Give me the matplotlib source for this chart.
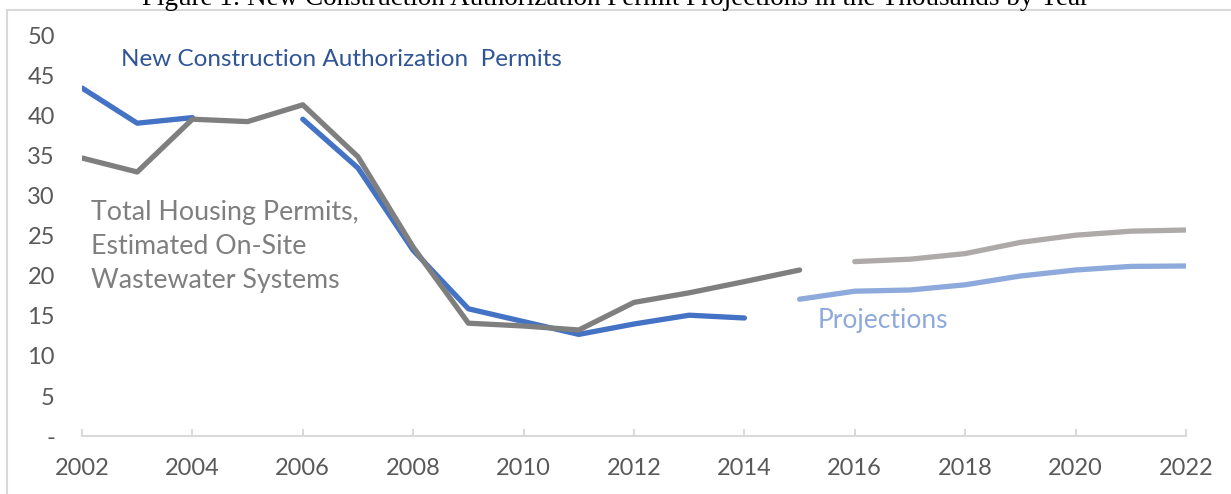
import matplotlib.pyplot as plt
import numpy as np
from matplotlib.patches import Rectangle

plt.rcParams["font.family"] = ["Lato", "DejaVu Sans"]

# Data (thousands of permits)
hist_years = np.arange(2002, 2015)
permits = [43.5, 39.1, 39.8, np.nan, 39.6, 33.5, 23.2, 15.9, 14.3, 12.7, 14.0, 15.1, 14.75]

total_years = np.arange(2002, 2016)
total_permits = [34.75, 33.0, 39.6, 39.3, 41.4, 34.9, 23.6, 14.1, 13.75, 13.25, 16.7, 17.9, 19.3, 20.75]

proj_years = np.arange(2015, 2023)
proj_permits = [17.1, 18.1, 18.25, 18.9, 20.0, 20.75, 21.2, 21.25]

proj_total_years = np.arange(2016, 2023)
proj_total = [21.8, 22.1, 22.8, 24.2, 25.1, 25.6, 25.75]

y_ticks = [0, 5, 10, 15, 20, 25, 30, 35, 40, 45, 50]
y_labels = ["-"] + [str(v) for v in y_ticks[1:]]
x_ticks = list(range(2002, 2023, 2))

blue = "#4472C4"
gray = "#7F7F7F"
light_blue = "#8EA9DB"
light_gray = "#AEAAAA"
lw = 3.8

fig = plt.figure(figsize=(12.31, 4.94), dpi=100)
W, H = 1231, 494
ax = fig.add_axes([82 / W, (H - 436) / H, (1186 - 82) / W, 400 / H])

# outer chart border (partly cut off at the right and bottom)
fig.patches.append(Rectangle((7 / W, -0.1), 1.2, 1 - 10 / H + 0.1, transform=fig.transFigure,
                             fill=False, edgecolor="#D9D9D9", linewidth=1.5))

# caption above the chart, cut off by the top edge as in the original
fig.text(0.5, 1 - 5 / H, "Figure 1: New Construction Authorization Permit Projections in the Thousands by Year",
         ha="center", va="baseline", fontsize=19.5, family="Liberation Serif", color="black")

ax.plot(hist_years, permits, color=blue, lw=lw, solid_capstyle="round", solid_joinstyle="round")
ax.plot(total_years, total_permits, color=gray, lw=lw, solid_capstyle="round", solid_joinstyle="round")
ax.plot(proj_years, proj_permits, color=light_blue, lw=lw, solid_capstyle="round", solid_joinstyle="round")
ax.plot(proj_total_years, proj_total, color=light_gray, lw=lw, solid_capstyle="round", solid_joinstyle="round")

ax.text(2002.71, 47.0, "New Construction Authorization  Permits", color="#2F5597",
        fontsize=17.5, ha="left", va="center")
ax.text(2002.16, 23.7, "Total Housing Permits,\nEstimated On-Site\nWastewater Systems", color=gray,
        fontsize=19.3, ha="left", va="center", linespacing=1.45)
ax.text(2015.32, 14.4, "Projections", color=light_blue, fontsize=19, ha="left", va="center")

ax.set_xlim(2002, 2022)
ax.set_ylim(0, 50)
ax.set_xticks(x_ticks)
ax.set_yticks(y_ticks)
ax.set_yticklabels(y_labels)

for side in ["top", "right", "left"]:
    ax.spines[side].set_visible(False)
ax.spines["bottom"].set_color("#D9D9D9")
ax.spines["bottom"].set_linewidth(1.5)
ax.tick_params(axis="x", direction="in", length=5, width=1.5, color="#D9D9D9",
               labelsize=17, labelcolor="#595959", pad=16)
ax.tick_params(axis="y", length=0, labelsize=17, labelcolor="#595959", pad=19.5)
ax.patch.set_alpha(0)

fig.savefig("out.png", dpi=100)
